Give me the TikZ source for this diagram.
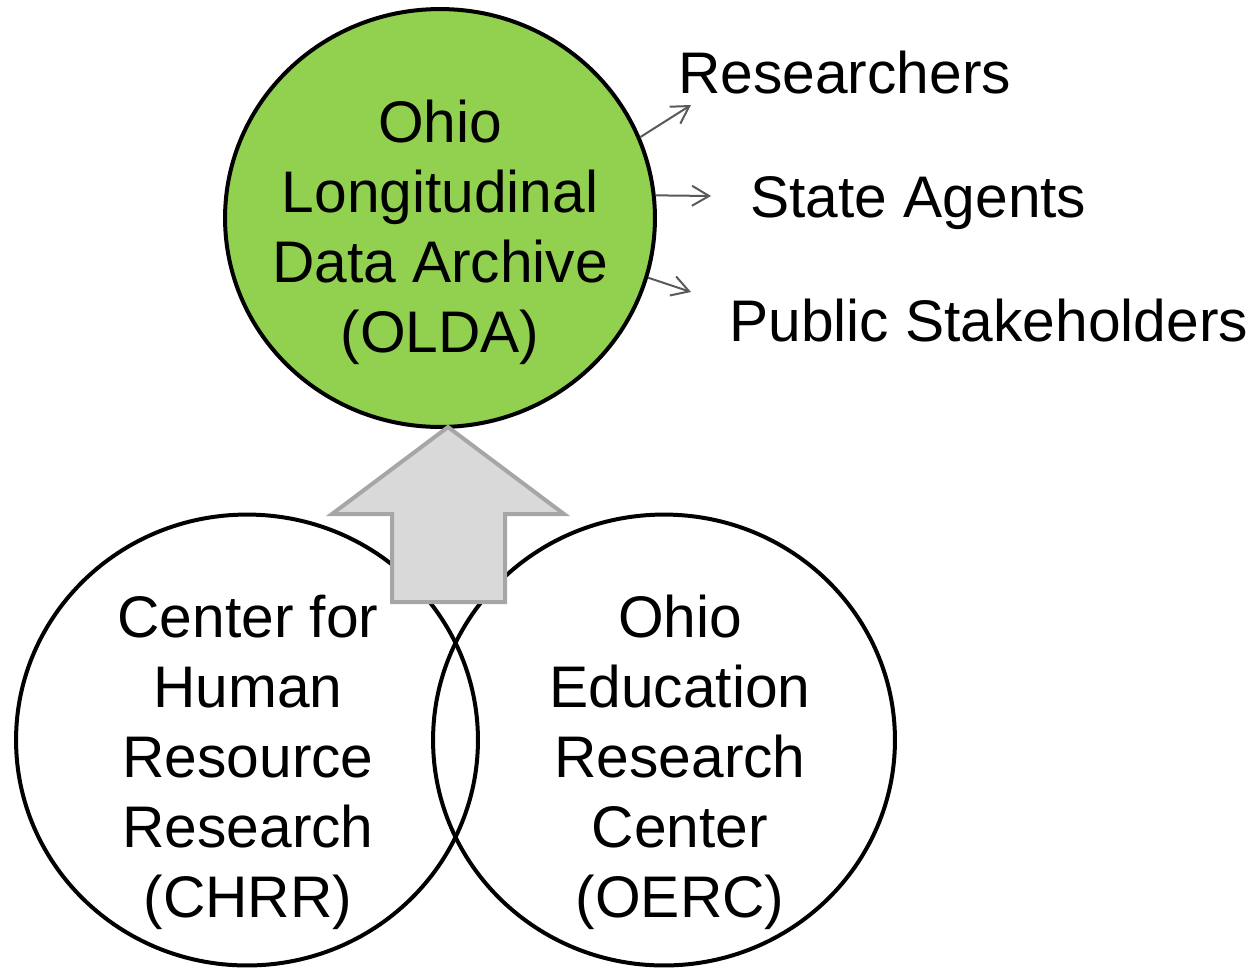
\documentclass[tikz,border=0pt]{standalone}
\usepackage{fontspec}
\setmainfont{Liberation Sans}
\usetikzlibrary{arrows.meta,positioning,shapes.geometric}
\definecolor{oldagreen}{HTML}{92D050}
\definecolor{feedgray}{HTML}{595959}
\definecolor{pushfill}{HTML}{D9D9D9}
\definecolor{pushline}{HTML}{A6A6A6}
\newcommand{\bigtext}{\fontsize{33.4}{39.8}\selectfont}

\begin{document}
\begin{tikzpicture}[x=0.02cm,y=-0.02cm,
  blob/.style={ellipse,draw,line width=0.08cm,inner sep=0pt},
  lbl/.style={align=center,inner sep=0pt,font=\bigtext},
  dest/.style={anchor=base west,inner sep=0pt,font=\bigtext},
  feed/.style={draw=feedgray,line width=0.04cm,-{Straight Barb[length=0.34cm,width=0.4cm]}},
  push/.style={draw=pushline,fill=pushfill,line width=0.08cm}]

  \useasboundingbox (0,0) rectangle (1256,971);

  \node[blob,minimum width=9.24cm,minimum height=9.02cm] (chrr) at (247,740) {};
  \node[blob,minimum width=9.24cm,minimum height=9.02cm] (oerc) at (664,740) {};
  \node[blob,fill=oldagreen,minimum width=8.6cm,minimum height=8.36cm] (olda) at (440,218) {};

  \node[lbl] (oldatext) at (440,232) {Ohio\\Longitudinal\\Data Archive\\(OLDA)};
  \node[lbl] (chrrtext) at (248,762) {Center for\\Human\\Resource\\Research\\(CHRR)};
  \node[lbl] (oerctext) at (680,762) {Ohio\\Education\\Research\\Center\\(OERC)};

  \node[dest] (res) at (678,93) {Researchers};
  \node[dest] (state) at (750,217) {State Agents};
  \node[dest] (public) at (729,341) {Public Stakeholders};

  \coordinate (resend) at (691,105);
  \coordinate (stateend) at (711,196);
  \coordinate (publicend) at (691,292);

  \draw[feed] (olda.22) -- (resend);
  \draw[feed] (olda.6) -- (stateend);
  \draw[feed] (olda.-16) -- (publicend);

  \draw[push] (448,427) -- (564,514) -- (505,514) -- (505,602)
    -- (392,602) -- (392,514) -- (332,514) -- cycle;

\end{tikzpicture}
\end{document}
